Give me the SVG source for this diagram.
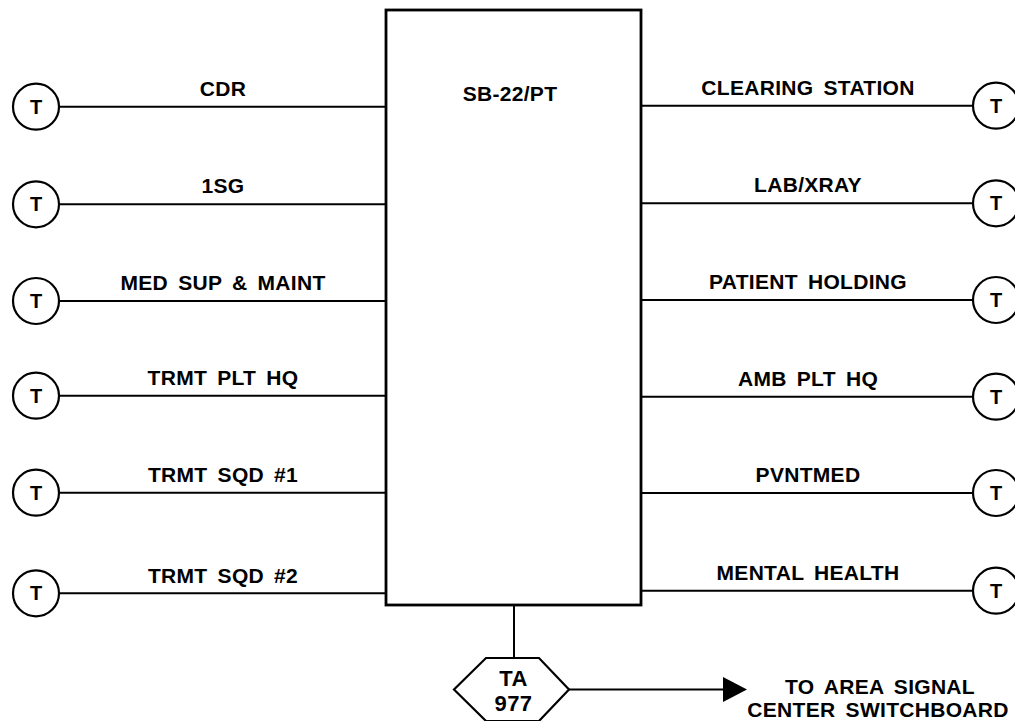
<svg xmlns="http://www.w3.org/2000/svg" width="1015" height="721" viewBox="0 0 1015 721">
<style>
  .ln { stroke: #000; stroke-width: 2; fill: none; }
  .term { stroke: #000; stroke-width: 2.2; fill: #fff; }
  .box { stroke: #000; stroke-width: 2.8; fill: #fff; }
  .lbl { font-family: "Liberation Sans", Arial, sans-serif; font-weight: bold; font-size: 21px; letter-spacing: 0.3px; word-spacing: 4px; fill: #000; text-anchor: middle; }
  .t { font-family: "Liberation Sans", Arial, sans-serif; font-weight: bold; font-size: 20px; fill: #000; text-anchor: middle; }
  .big { font-family: "Liberation Sans", Arial, sans-serif; font-weight: bold; font-size: 22px; letter-spacing: 0.5px; fill: #000; text-anchor: middle; }
</style>
<rect width="1015" height="721" fill="#fff"/>

<g id="connectors">
  <line class="ln" x1="59" y1="106.7" x2="386" y2="106.7"/>
  <line class="ln" x1="59" y1="204.3" x2="386" y2="204.3"/>
  <line class="ln" x1="59" y1="301" x2="386" y2="301"/>
  <line class="ln" x1="59" y1="395.7" x2="386" y2="395.7"/>
  <line class="ln" x1="59" y1="492.7" x2="386" y2="492.7"/>
  <line class="ln" x1="59" y1="593.3" x2="386" y2="593.3"/>
  <line class="ln" x1="641" y1="105.7" x2="973" y2="105.7"/>
  <line class="ln" x1="641" y1="203.3" x2="973" y2="203.3"/>
  <line class="ln" x1="641" y1="300" x2="973" y2="300"/>
  <line class="ln" x1="641" y1="396.7" x2="973" y2="396.7"/>
  <line class="ln" x1="641" y1="493" x2="973" y2="493"/>
  <line class="ln" x1="641" y1="590.7" x2="973" y2="590.7"/>
  <line class="ln" x1="514" y1="605" x2="514" y2="658"/>
  <line class="ln" x1="569" y1="689.5" x2="724" y2="689.5"/>
  <polygon points="723,677 747,689.5 723,702" fill="#000"/>
</g>

<g id="labels">
  <text class="lbl" x="223" y="95.5">CDR</text>
  <text class="lbl" x="223" y="193">1SG</text>
  <text class="lbl" x="223" y="289.5">MED SUP &amp; MAINT</text>
  <text class="lbl" x="223" y="384.5">TRMT PLT HQ</text>
  <text class="lbl" x="223" y="481.5">TRMT SQD #1</text>
  <text class="lbl" x="223" y="582.5">TRMT SQD #2</text>
  <text class="lbl" x="808" y="94.5">CLEARING STATION</text>
  <text class="lbl" x="808" y="192">LAB/XRAY</text>
  <text class="lbl" x="808" y="289">PATIENT HOLDING</text>
  <text class="lbl" x="808" y="385.5">AMB PLT HQ</text>
  <text class="lbl" x="808" y="482">PVNTMED</text>
  <text class="lbl" x="808" y="579.5">MENTAL HEALTH</text>
</g>

<g id="switchboard">
  <rect class="box" x="386" y="10" width="255" height="595"/>
  <text class="lbl" x="510" y="100.5">SB-22/PT</text>
</g>

<g id="t-left-1"><circle class="term" cx="36" cy="106.7" r="23"/><text class="t" x="36" y="113.7">T</text></g>
<g id="t-left-2"><circle class="term" cx="36" cy="204.3" r="23"/><text class="t" x="36" y="211.3">T</text></g>
<g id="t-left-3"><circle class="term" cx="36" cy="301" r="23"/><text class="t" x="36" y="308">T</text></g>
<g id="t-left-4"><circle class="term" cx="36" cy="395.7" r="23"/><text class="t" x="36" y="402.7">T</text></g>
<g id="t-left-5"><circle class="term" cx="36" cy="492.7" r="23"/><text class="t" x="36" y="499.7">T</text></g>
<g id="t-left-6"><circle class="term" cx="36" cy="593.3" r="23"/><text class="t" x="36" y="600.3">T</text></g>

<g id="t-right-1"><circle class="term" cx="996" cy="105.7" r="23"/><text class="t" x="996" y="112.7">T</text></g>
<g id="t-right-2"><circle class="term" cx="996" cy="203.3" r="23"/><text class="t" x="996" y="210.3">T</text></g>
<g id="t-right-3"><circle class="term" cx="996" cy="300" r="23"/><text class="t" x="996" y="307">T</text></g>
<g id="t-right-4"><circle class="term" cx="996" cy="396.7" r="23"/><text class="t" x="996" y="403.7">T</text></g>
<g id="t-right-5"><circle class="term" cx="996" cy="493" r="23"/><text class="t" x="996" y="500">T</text></g>
<g id="t-right-6"><circle class="term" cx="996" cy="590.7" r="23"/><text class="t" x="996" y="597.7">T</text></g>

<g id="ta977">
  <polygon class="term" points="486,658 539,658 569,689.5 539,721 486,721 454,689.5"/>
  <text class="big" x="513.5" y="686">TA</text>
  <text class="big" x="513.5" y="711">977</text>
</g>

<g id="destination">
  <text class="lbl" x="880" y="694">TO AREA SIGNAL</text>
  <text class="lbl" x="878" y="717">CENTER SWITCHBOARD</text>
</g>
</svg>
